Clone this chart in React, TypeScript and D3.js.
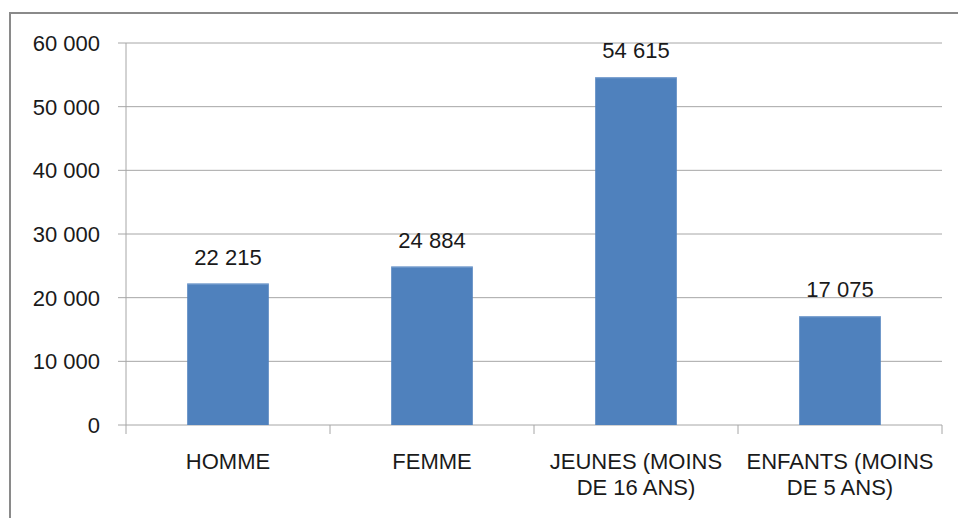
import React from 'react'
import * as d3 from 'd3'

const categories = ['HOMME', 'FEMME', 'JEUNES (MOINS DE 16 ANS)', 'ENFANTS (MOINS DE 5 ANS)']
const categoryLines = [['HOMME'], ['FEMME'], ['JEUNES (MOINS', 'DE 16 ANS)'], ['ENFANTS (MOINS', 'DE 5 ANS)']]
const values = [22215, 24884, 54615, 17075]
const yTicks = [0, 10000, 20000, 30000, 40000, 50000, 60000]

const frLocale = d3.formatLocale({ decimal: ',', thousands: '\u00a0', grouping: [3], currency: ['', ' €'] })
const fmt = frLocale.format(',d')

export default function App() {
  const width = 958
  const height = 518
  const margin = { left: 126, right: 16, top: 43, bottom: 93 }

  const xScale = d3.scaleBand<string>()
    .domain(categories)
    .range([margin.left, width - margin.right])
    .paddingInner(0.6)
    .paddingOuter(0.3)

  const yScale = d3.scaleLinear()
    .domain([0, 60000])
    .range([height - margin.bottom, margin.top])

  const step = xScale.step()
  const x0 = margin.left
  const boundaries = d3.range(categories.length + 1).map(i => x0 + i * step)
  const baseY = yScale(0)
  const font = "'Liberation Sans', Arial, sans-serif"

  return (
    <svg width={width} height={height} style={{ position: 'fixed', left: 0, top: 0, background: '#fff' }}>
      {/* outer frame */}
      <rect x={10} y={13} width={980} height={540} fill="#fff" stroke="#8a8a8a" strokeWidth={2} />

      {/* grid + y ticks */}
      {yTicks.map(t => (
        <g key={t}>
          <line x1={margin.left - 8} x2={width - margin.right} y1={yScale(t)} y2={yScale(t)} stroke="#a6a6a6" strokeWidth={1} />
          <text x={100} y={yScale(t)} dy="0.36em" textAnchor="end" fontFamily={font} fontSize={22} fill="#1a1a1a">
            {fmt(t)}
          </text>
        </g>
      ))}

      {/* y axis */}
      <line x1={margin.left} x2={margin.left} y1={yScale(60000)} y2={baseY} stroke="#a6a6a6" />

      {/* category ticks */}
      {boundaries.map((b, i) => (
        <line key={i} x1={b} x2={b} y1={baseY} y2={baseY + 9} stroke="#a6a6a6" />
      ))}

      {/* bars */}
      {categories.map((c, i) => (
        <g key={c}>
          <rect
            x={xScale(c)}
            y={yScale(values[i])}
            width={xScale.bandwidth()}
            height={baseY - yScale(values[i])}
            fill="#4f81bd"
          />
          <line x1={xScale(c)} x2={(xScale(c) as number) + xScale.bandwidth()} y1={yScale(values[i]) + 0.5} y2={yScale(values[i]) + 0.5} stroke="#7fa3d1" />
          <text
            x={(xScale(c) as number) + xScale.bandwidth() / 2}
            y={yScale(values[i]) - 19}
            textAnchor="middle"
            fontFamily={font}
            fontSize={22}
            fill="#1a1a1a"
          >
            {fmt(values[i])}
          </text>
        </g>
      ))}

      {/* category labels */}
      {categories.map((c, i) => (
        <text key={c} textAnchor="middle" fontFamily={font} fontSize={22} fill="#1a1a1a">
          {categoryLines[i].map((l, j) => (
            <tspan key={j} x={(xScale(c) as number) + xScale.bandwidth() / 2} y={469 + j * 26}>{l}</tspan>
          ))}
        </text>
      ))}
    </svg>
  )
}
